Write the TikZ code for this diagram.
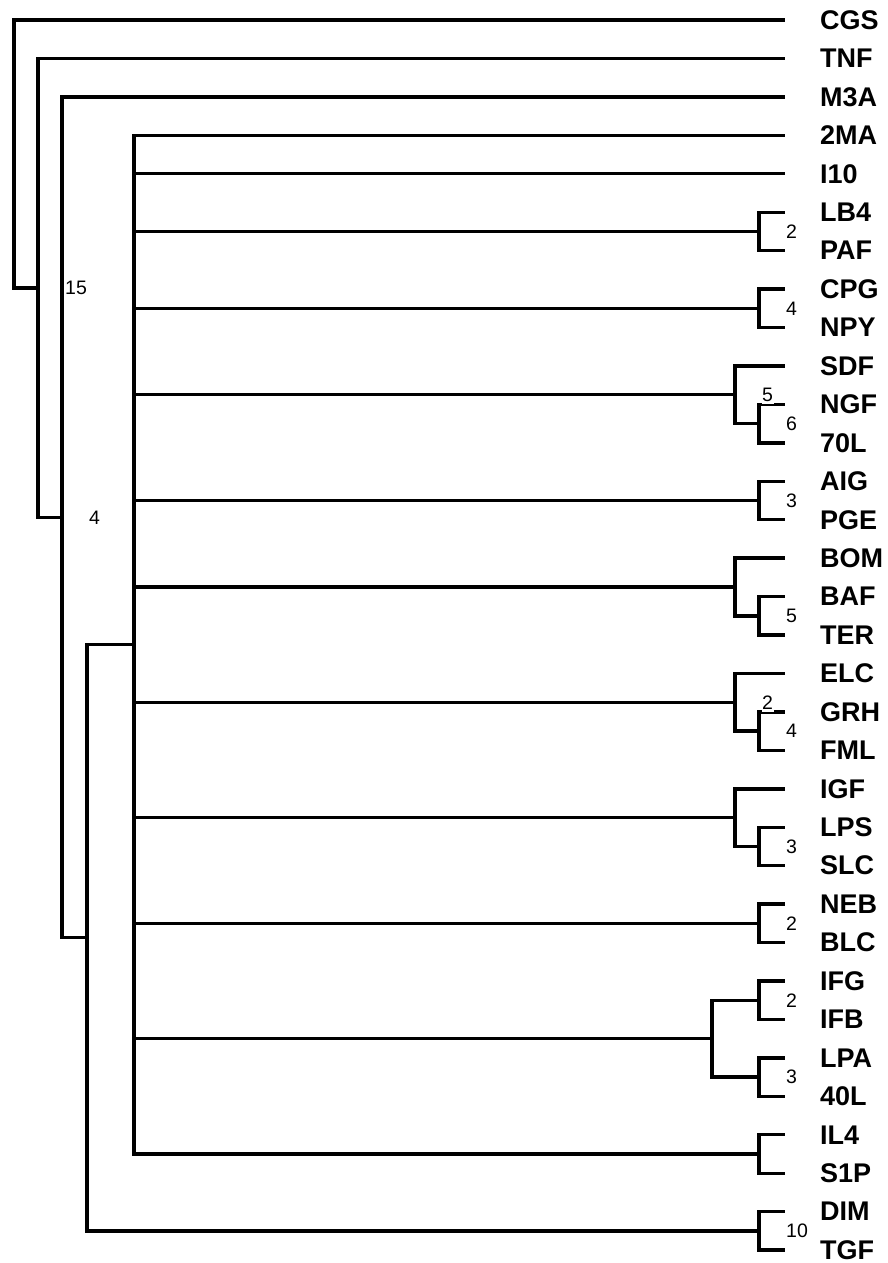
\documentclass[tikz,border=0pt]{standalone}
\usepackage{fontspec}
\setmainfont{Liberation Sans}
\begin{document}
\begin{tikzpicture}[x=1pt,y=-1pt,
  br/.style={line width=3.4pt},
  leaf/.style={anchor=west, inner sep=0pt, font=\bfseries\fontsize{27}{27}\selectfont},
  supp/.style={anchor=west, fill=white, inner xsep=0.5pt, inner ysep=2.5pt, xshift=26.5pt, font=\fontsize{19.5}{19.5}\selectfont}]
\useasboundingbox (0,0) rectangle (888,1263);
\newcommand\kids[2]{\foreach \c in {#2}{\draw[br] (#1) |- (\c);}}
% leaves
\foreach \n [count=\i from 0] in {CGS,TNF,M3A,2MA,I10,LB4,PAF,CPG,NPY,SDF,NGF,70L,AIG,PGE,BOM,BAF,TER,ELC,GRH,FML,IGF,LPS,SLC,NEB,BLC,IFG,IFB,LPA,40L,IL4,S1P,DIM,TGF}{
  \coordinate (L\i) at (785,{20+38.44*\i});
  \node[leaf] (T\i) at (820,{20+38.44*\i}) {\n};
}
% internal nodes
\coordinate (pLB) at (759,{20+38.44*5.5});
\coordinate (pCP) at (759,{20+38.44*7.5});
\coordinate (pNG) at (759,{20+38.44*10.5});
\coordinate (gSD) at (735,{20+38.44*9.75});
\coordinate (pAI) at (759,{20+38.44*12.5});
\coordinate (pBA) at (759,{20+38.44*15.5});
\coordinate (gBO) at (735,{20+38.44*14.75});
\coordinate (pGR) at (759,{20+38.44*18.5});
\coordinate (gEL) at (735,{20+38.44*17.75});
\coordinate (pLP) at (759,{20+38.44*21.5});
\coordinate (gIG) at (735,{20+38.44*20.75});
\coordinate (pNE) at (759,{20+38.44*23.5});
\coordinate (pIF) at (759,{20+38.44*25.5});
\coordinate (pLA) at (759,{20+38.44*27.5});
\coordinate (gIF) at (712,{20+38.44*26.5});
\coordinate (pIL) at (759,{20+38.44*29.5});
\coordinate (pDI) at (759,{20+38.44*31.5});
\coordinate (big) at (134,{20+38.44*16.25});
\coordinate (n3) at (87,{20+38.44*23.875});
\coordinate (n2) at (62,{20+38.44*12.9375});
\coordinate (n1) at (38,{20+38.44*6.96875});
\coordinate (root) at (14,{20+38.44*3.484375});
% connectors
\kids{root}{L0,n1}
\kids{n1}{L1,n2}
\kids{n2}{L2,n3}
\kids{n3}{big,pDI}
\kids{big}{L3,L4,pLB,pCP,gSD,pAI,gBO,gEL,gIG,pNE,gIF,pIL}
\kids{pLB}{L5,L6}
\kids{pCP}{L7,L8}
\kids{gSD}{L9,pNG}
\kids{pNG}{L10,L11}
\kids{pAI}{L12,L13}
\kids{gBO}{L14,pBA}
\kids{pBA}{L15,L16}
\kids{gEL}{L17,pGR}
\kids{pGR}{L18,L19}
\kids{gIG}{L20,pLP}
\kids{pLP}{L21,L22}
\kids{pNE}{L23,L24}
\kids{gIF}{pIF,pLA}
\kids{pIF}{L25,L26}
\kids{pLA}{L27,L28}
\kids{pIL}{L29,L30}
\kids{pDI}{L31,L32}
% support values
\node[supp] (s1) at (n1) {15};
\node[supp] (s2) at (n2) {4};
\node[supp] (s3) at (pLB) {2};
\node[supp] (s4) at (pCP) {4};
\node[supp] (s5) at (gSD) {5};
\node[supp] (s6) at (pNG) {6};
\node[supp] (s7) at (pAI) {3};
\node[supp] (s8) at (pBA) {5};
\node[supp] (s9) at (gEL) {2};
\node[supp] (s10) at (pGR) {4};
\node[supp] (s11) at (pLP) {3};
\node[supp] (s12) at (pNE) {2};
\node[supp] (s13) at (pIF) {2};
\node[supp] (s14) at (pLA) {3};
\node[supp] (s15) at (pDI) {10};
\end{tikzpicture}
\end{document}
